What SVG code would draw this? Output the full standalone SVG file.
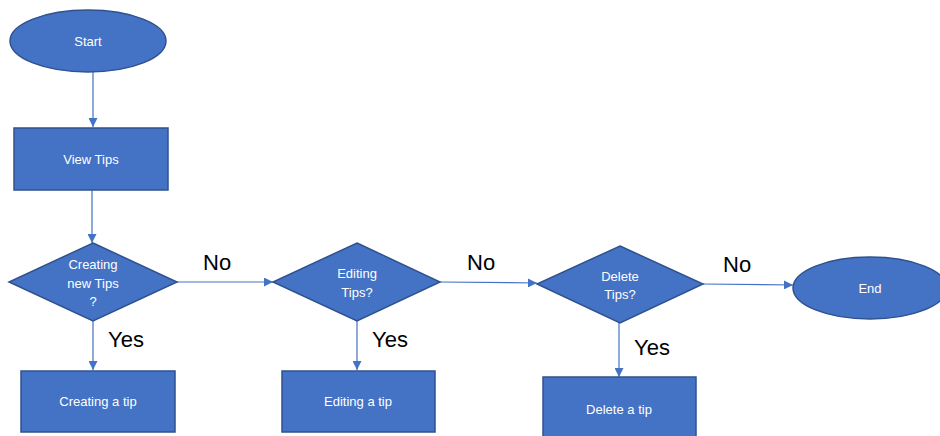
<svg xmlns="http://www.w3.org/2000/svg" width="940" height="436" viewBox="0 0 940 436">
<style>
.shape{fill:#4472C4;stroke:#2F528F;stroke-width:1.5}
.lbl{font-family:"Liberation Sans",Arial,sans-serif;font-size:13px;fill:#FFFFFF;text-anchor:middle}
.edge{font-family:"Liberation Sans",Arial,sans-serif;font-size:22px;fill:#000000}
.conn{stroke:#4472C4;stroke-width:1.2;fill:none;marker-end:url(#arr)}
</style>
<defs>
<marker id="arr" viewBox="0 0 10 10" refX="10" refY="5" markerWidth="9" markerHeight="9" markerUnits="userSpaceOnUse" orient="auto">
<path d="M0,0 L10,5 L0,10 z" fill="#4472C4"/>
</marker>
</defs>
<rect width="940" height="436" fill="#FFFFFF"/>
<g id="connectors">
<line class="conn" x1="93" y1="72" x2="93" y2="127"/>
<line class="conn" x1="92" y1="190" x2="92" y2="243"/>
<line class="conn" x1="177" y1="282" x2="273" y2="282"/>
<line class="conn" x1="93" y1="321" x2="93" y2="370"/>
<line class="conn" x1="440" y1="282" x2="537" y2="283"/>
<line class="conn" x1="357" y1="321" x2="357" y2="370"/>
<line class="conn" x1="703" y1="284" x2="793" y2="285"/>
<line class="conn" x1="619" y1="323" x2="619" y2="377"/>
<text class="edge" x="203" y="270">No</text>
<text class="edge" x="467" y="270">No</text>
<text class="edge" x="723" y="272">No</text>
<text class="edge" x="108" y="347">Yes</text>
<text class="edge" x="372" y="347">Yes</text>
<text class="edge" x="634" y="355">Yes</text>
</g>
<g id="start">
<ellipse class="shape" cx="88" cy="41" rx="78" ry="31"/>
<text class="lbl" x="88" y="46">Start</text>
</g>
<g id="view-tips">
<rect class="shape" x="14" y="128" width="154" height="62"/>
<text class="lbl" x="91" y="164">View Tips</text>
</g>
<g id="creating-new-tips">
<polygon class="shape" points="93,243 177,282 93,321 9,282"/>
<text class="lbl" x="93" y="269">Creating</text>
<text class="lbl" x="93" y="288">new Tips</text>
<text class="lbl" x="93" y="306">?</text>
</g>
<g id="creating-a-tip">
<rect class="shape" x="21" y="371" width="154" height="61"/>
<text class="lbl" x="98" y="406">Creating a tip</text>
</g>
<g id="editing-tips">
<polygon class="shape" points="357,243 440,282 357,321 273,282"/>
<text class="lbl" x="357" y="278">Editing</text>
<text class="lbl" x="357" y="297">Tips?</text>
</g>
<g id="editing-a-tip">
<rect class="shape" x="282" y="371" width="153" height="61"/>
<text class="lbl" x="358" y="406">Editing a tip</text>
</g>
<g id="delete-tips">
<polygon class="shape" points="620,246 703,284 620,323 537,284"/>
<text class="lbl" x="620" y="281">Delete</text>
<text class="lbl" x="620" y="299">Tips?</text>
</g>
<g id="delete-a-tip">
<rect class="shape" x="543" y="377" width="153" height="66"/>
<text class="lbl" x="619" y="414">Delete a tip</text>
</g>
<g id="end">
<ellipse class="shape" cx="870" cy="288" rx="77" ry="31"/>
<text class="lbl" x="870" y="293">End</text>
</g>
</svg>
